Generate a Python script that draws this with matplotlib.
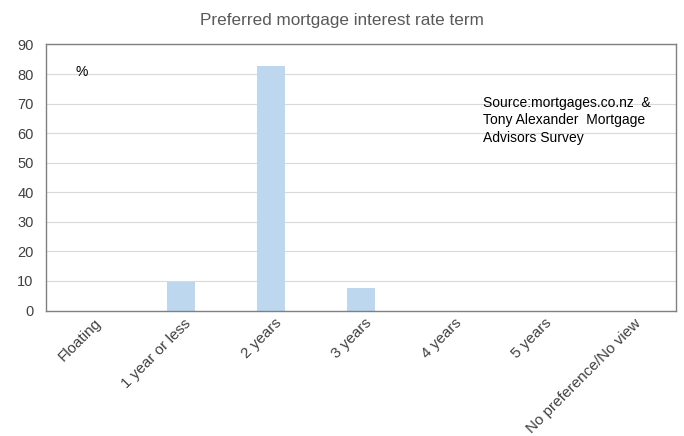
import matplotlib
matplotlib.use("Agg")
import matplotlib.pyplot as plt
from matplotlib.transforms import ScaledTranslation

categories = ["Floating", "1 year or less", "2 years", "3 years", "4 years", "5 years", "No preference/No view"]
values = [0, 9.7, 82.8, 7.5, 0, 0, 0]
yticks = [0, 10, 20, 30, 40, 50, 60, 70, 80, 90]

plt.rcParams['font.family'] = ['Liberation Sans', 'DejaVu Sans']

fig = plt.figure(figsize=(6.84, 4.36), dpi=100)
ax = fig.add_axes([46/684, 1-310.5/436, (676-46)/684, (310.5-44.5)/436])

x = list(range(len(categories)))
ax.bar(x, values, width=0.32, color='#BDD7EE', zorder=2)
ax.set_xlim(-0.5, 6.5)
ax.set_ylim(0, 90)
ax.set_yticks(yticks)
ax.grid(axis='y', color='#D9D9D9', linewidth=0.8, zorder=0)
ax.set_xticks(x)
ax.set_xticklabels(categories, rotation=45, ha='right', rotation_mode='anchor', fontsize=11, color='#404040')
ax.tick_params(axis='y', labelsize=10.5, labelcolor='#404040', length=0, pad=9)
ax.tick_params(axis='x', length=0, pad=4)
offset = ScaledTranslation(3/100, 0, fig.dpi_scale_trans)
for lbl in ax.get_xticklabels():
    lbl.set_transform(lbl.get_transform() + offset)
for s in ax.spines.values():
    s.set_color('#808080')
    s.set_linewidth(1.0)

fig.text(0.5, 1-20/436, "Preferred mortgage interest rate term", fontsize=12.3, color='#595959', ha='center', va='center')
ax.text(-0.1, 80.7, "%", fontsize=10, color='black', va='center', ha='center')
ax.text(4.36, 72.6, "Source:mortgages.co.nz  &\nTony Alexander  Mortgage\nAdvisors Survey", fontsize=10, color='black', va='top', ha='left', linespacing=1.3)

fig.savefig("out.png", dpi=100)
